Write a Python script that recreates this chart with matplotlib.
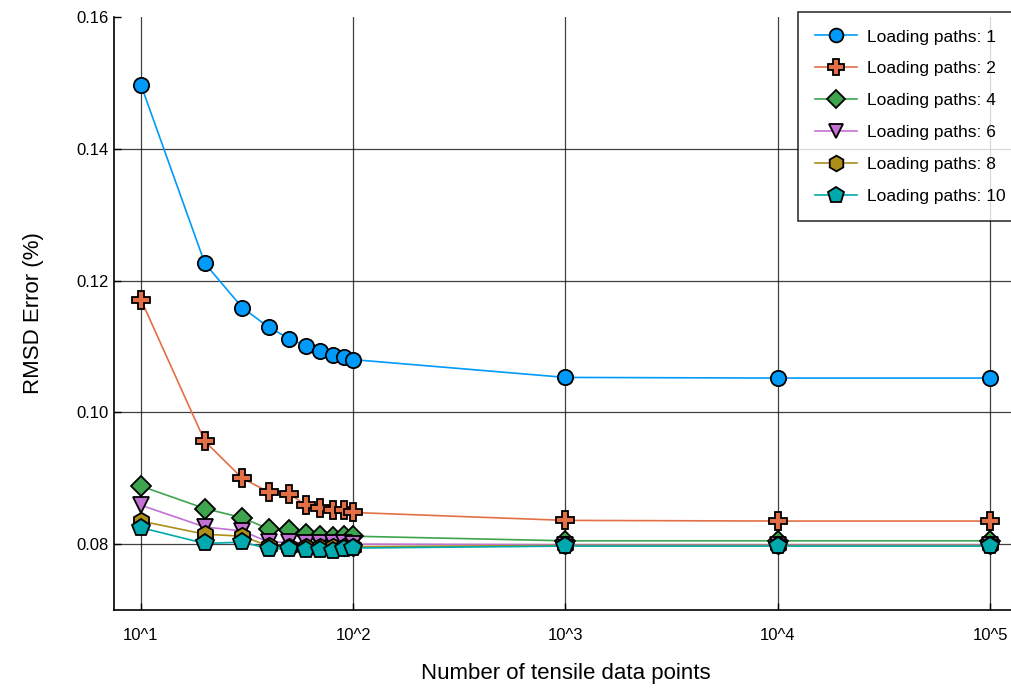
import matplotlib
matplotlib.use("Agg")
import matplotlib.pyplot as plt

plt.rcParams['font.family'] = ['Liberation Sans', 'DejaVu Sans']

x_points = [10, 20, 30, 40, 50, 60, 70, 80, 90, 100, 1000, 10000, 100000]
series_labels = ["Loading paths: 1", "Loading paths: 2", "Loading paths: 4",
                 "Loading paths: 6", "Loading paths: 8", "Loading paths: 10"]
rmsd_1 = [0.1497, 0.1226, 0.1159, 0.1129, 0.1112, 0.1100, 0.1093, 0.1087, 0.1084, 0.1080, 0.1053, 0.1052, 0.1052]
rmsd_2 = [0.1171, 0.0956, 0.0900, 0.0879, 0.0876, 0.0859, 0.0855, 0.0852, 0.0852, 0.0848, 0.0836, 0.0835, 0.0835]
rmsd_4 = [0.0888, 0.0854, 0.0840, 0.0823, 0.0822, 0.0815, 0.0812, 0.0811, 0.0812, 0.0812, 0.0805, 0.0805, 0.0805]
rmsd_6 = [0.0859, 0.0826, 0.0820, 0.0803, 0.0803, 0.0802, 0.0802, 0.0802, 0.0801, 0.0800, 0.0799, 0.0799, 0.0799]
rmsd_8 = [0.0835, 0.0815, 0.0812, 0.0797, 0.0796, 0.0796, 0.0795, 0.0795, 0.0796, 0.0796, 0.0798, 0.0798, 0.0798]
rmsd_10 = [0.0825, 0.0801, 0.0803, 0.0793, 0.0793, 0.0791, 0.0791, 0.0790, 0.0792, 0.0794, 0.0797, 0.0797, 0.0797]
x_tick_values = [10, 100, 1000, 10000, 100000]
x_tick_labels = ["10^1", "10^2", "10^3", "10^4", "10^5"]
y_tick_values = [0.08, 0.10, 0.12, 0.14, 0.16]
y_tick_labels = ["0.08", "0.10", "0.12", "0.14", "0.16"]

all_series = [rmsd_1, rmsd_2, rmsd_4, rmsd_6, rmsd_8, rmsd_10]
colors = ['#009AFA', '#E36F47', '#3EA44E', '#C371D2', '#AC8E18', '#00A9AD']
markers = ['o', 'P', 'D', 'v', 'h', 'p']
msizes = [11, 13, 10.5, 11, 12.5, 13]

W, H = 1012, 689
fig = plt.figure(figsize=(W / 100, H / 100), dpi=100)
left, right, top, bottom = 114, 1017, 17, 610
ax = fig.add_axes([left / W, 1 - bottom / H, (right - left) / W, (bottom - top) / H])

for vals, lab, c, m, ms in zip(all_series, series_labels, colors, markers, msizes):
    ax.plot(x_points, vals, color=c, lw=1.2, marker=m, markersize=ms,
            markerfacecolor=c, markeredgecolor='black', markeredgewidth=1.3,
            label=lab, clip_on=False, zorder=3)

ax.set_xscale('log')
ax.set_xlim(10 ** 0.873, 10 ** 5.127)
ax.set_ylim(0.07, 0.16)
ax.set_xticks(x_tick_values)
ax.set_xticklabels(x_tick_labels)
ax.minorticks_off()
ax.set_yticks(y_tick_values)
ax.set_yticklabels(y_tick_labels)
ax.tick_params(direction='in', length=5, width=1, labelsize=12, colors='black')
ax.tick_params(axis='x', pad=13)
ax.tick_params(axis='y', pad=4)

ax.grid(True, color='black', lw=0.9, alpha=0.75)
ax.yaxis.get_gridlines()[-1].set_visible(False)
ax.set_axisbelow(True)
for s in ['top', 'right']:
    ax.spines[s].set_visible(False)
for s in ['left', 'bottom']:
    ax.spines[s].set_linewidth(1.2)
    ax.spines[s].set_color('black')

ax.set_xlabel("Number of tensile data points", fontsize=16, labelpad=14)
ax.set_ylabel("RMSD Error (%)", fontsize=16, labelpad=23)

leg = fig.legend(loc='upper left', bbox_to_anchor=(798 / W, 1 - 12 / H),
                 borderaxespad=0.0,
                 fontsize=12.5, frameon=True, fancybox=False, edgecolor='black',
                 handlelength=2.4, borderpad=1.0, labelspacing=0.96, handletextpad=0.55,
                 markerscale=0.9)
leg.get_frame().set_linewidth(1.2)

fig.savefig("out.png", dpi=100)
